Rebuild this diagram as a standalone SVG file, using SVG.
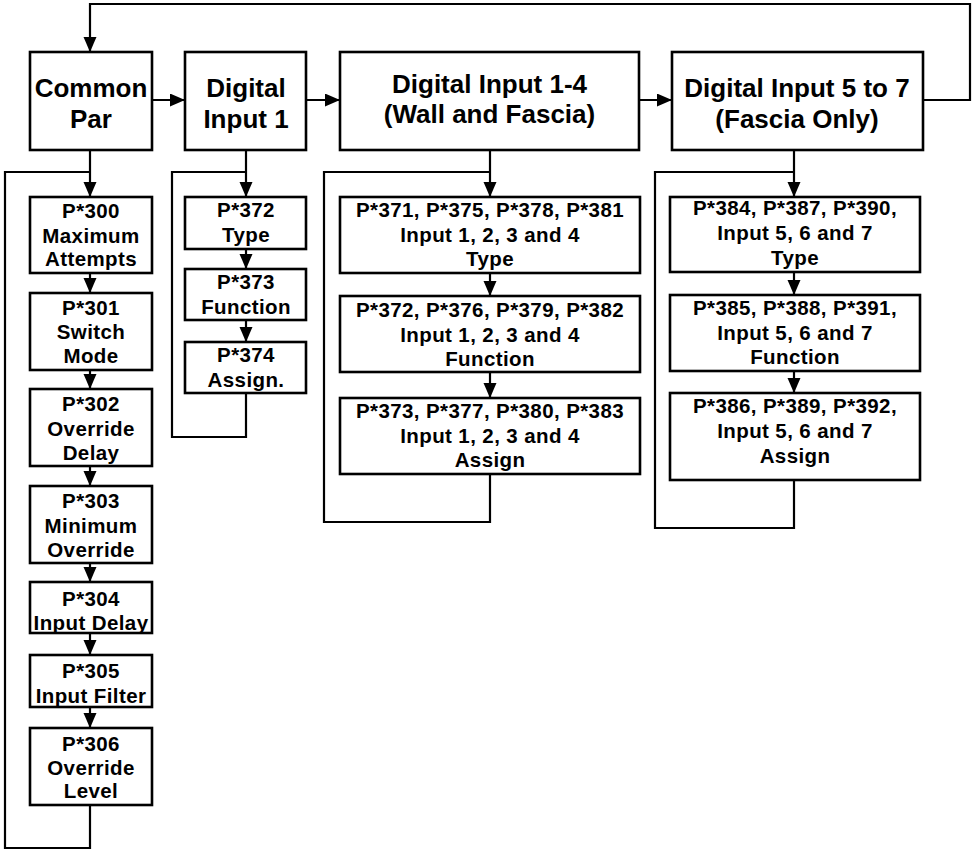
<svg xmlns="http://www.w3.org/2000/svg" width="975" height="851" viewBox="0 0 975 851">
<style>
.box{fill:#fff;stroke:#000;stroke-width:2.6}
.ln{fill:none;stroke:#000;stroke-width:2.2}
.big{font-family:"Liberation Sans",Arial,sans-serif;font-weight:bold;font-size:26px;text-anchor:middle;fill:#000}
.sm{font-family:"Liberation Sans",Arial,sans-serif;font-weight:bold;font-size:20.5px;letter-spacing:0.4px;text-anchor:middle;fill:#000}
</style>
<defs>
<marker id="ah" markerUnits="userSpaceOnUse" markerWidth="16" markerHeight="14" refX="15" refY="6.5" orient="auto">
<path d="M0,0 L15,6.5 L0,13 z" fill="#000"/>
</marker>
</defs>
<rect width="975" height="851" fill="#fff"/>
<g id="connectors">
<path class="ln" d="M923,100 H970 V4 H90 V52" marker-end="url(#ah)"/>
<path class="ln" d="M152,100 H185" marker-end="url(#ah)"/>
<path class="ln" d="M306,100 H340" marker-end="url(#ah)"/>
<path class="ln" d="M639,100 H672" marker-end="url(#ah)"/>
<path class="ln" d="M90,150 V197" marker-end="url(#ah)"/>
<path class="ln" d="M90,805 V848 H5 V172 H90"/>
<path class="ln" d="M90,273 V293" marker-end="url(#ah)"/>
<path class="ln" d="M90,370 V389" marker-end="url(#ah)"/>
<path class="ln" d="M90,466 V486" marker-end="url(#ah)"/>
<path class="ln" d="M90,563 V582" marker-end="url(#ah)"/>
<path class="ln" d="M90,633 V655" marker-end="url(#ah)"/>
<path class="ln" d="M90,707 V728" marker-end="url(#ah)"/>
<path class="ln" d="M246,150 V197" marker-end="url(#ah)"/>
<path class="ln" d="M246,393 V437 H172 V172 H246"/>
<path class="ln" d="M246,249 V269" marker-end="url(#ah)"/>
<path class="ln" d="M246,320 V342" marker-end="url(#ah)"/>
<path class="ln" d="M490,150 V197" marker-end="url(#ah)"/>
<path class="ln" d="M490,474 V522 H324 V172 H490"/>
<path class="ln" d="M490,273 V296" marker-end="url(#ah)"/>
<path class="ln" d="M490,372 V398" marker-end="url(#ah)"/>
<path class="ln" d="M794,150 V197" marker-end="url(#ah)"/>
<path class="ln" d="M794,480 V528 H655 V172 H794"/>
<path class="ln" d="M794,272 V295" marker-end="url(#ah)"/>
<path class="ln" d="M794,371 V393" marker-end="url(#ah)"/>
</g>
<g id="common-par"><rect class="box" x="30" y="52" width="122" height="98"/><text class="big" x="91" y="97">Common</text><text class="big" x="91" y="128">Par</text></g>
<g id="digital-input-1"><rect class="box" x="185" y="52" width="121" height="98"/><text class="big" x="246" y="97">Digital</text><text class="big" x="246" y="128">Input 1</text></g>
<g id="digital-input-1-4"><rect class="box" x="340" y="52" width="299" height="98"/><text class="big" x="489.5" y="93">Digital Input 1-4</text><text class="big" x="489.5" y="123">(Wall and Fascia)</text></g>
<g id="digital-input-5-7"><rect class="box" x="672" y="52" width="251" height="98"/><text class="big" x="797" y="97">Digital Input 5 to 7</text><text class="big" x="797" y="128">(Fascia Only)</text></g>

<g id="p300"><rect class="box" x="30" y="197" width="122" height="76"/><text class="sm" x="91" y="218">P*300</text><text class="sm" x="91" y="243">Maximum</text><text class="sm" x="91" y="266">Attempts</text></g>
<g id="p301"><rect class="box" x="30" y="293" width="122" height="77"/><text class="sm" x="91" y="315">P*301</text><text class="sm" x="91" y="339">Switch</text><text class="sm" x="91" y="363">Mode</text></g>
<g id="p302"><rect class="box" x="30" y="389" width="122" height="77"/><text class="sm" x="91" y="411">P*302</text><text class="sm" x="91" y="436">Override</text><text class="sm" x="91" y="460">Delay</text></g>
<g id="p303"><rect class="box" x="30" y="486" width="122" height="77"/><text class="sm" x="91" y="508">P*303</text><text class="sm" x="91" y="533">Minimum</text><text class="sm" x="91" y="557">Override</text></g>
<g id="p304"><rect class="box" x="30" y="582" width="122" height="51"/><text class="sm" x="91" y="606">P*304</text><text class="sm" x="91" y="630">Input Delay</text></g>
<g id="p305"><rect class="box" x="30" y="655" width="122" height="52"/><text class="sm" x="91" y="678">P*305</text><text class="sm" x="91" y="703">Input Filter</text></g>
<g id="p306"><rect class="box" x="30" y="728" width="122" height="77"/><text class="sm" x="91" y="751">P*306</text><text class="sm" x="91" y="775">Override</text><text class="sm" x="91" y="798">Level</text></g>

<g id="p372"><rect class="box" x="185" y="197" width="121" height="52"/><text class="sm" x="246" y="217">P*372</text><text class="sm" x="246" y="242">Type</text></g>
<g id="p373"><rect class="box" x="185" y="269" width="121" height="51"/><text class="sm" x="246" y="289">P*373</text><text class="sm" x="246" y="314">Function</text></g>
<g id="p374"><rect class="box" x="185" y="342" width="121" height="51"/><text class="sm" x="246" y="362">P*374</text><text class="sm" x="246" y="387">Assign.</text></g>

<g id="di14-type"><rect class="box" x="340" y="197" width="300" height="76"/><text class="sm" x="490" y="217">P*371, P*375, P*378, P*381</text><text class="sm" x="490" y="242">Input 1, 2, 3 and 4</text><text class="sm" x="490" y="266">Type</text></g>
<g id="di14-function"><rect class="box" x="340" y="296" width="300" height="76"/><text class="sm" x="490" y="317">P*372, P*376, P*379, P*382</text><text class="sm" x="490" y="342">Input 1, 2, 3 and 4</text><text class="sm" x="490" y="366">Function</text></g>
<g id="di14-assign"><rect class="box" x="340" y="398" width="300" height="76"/><text class="sm" x="490" y="418">P*373, P*377, P*380, P*383</text><text class="sm" x="490" y="443">Input 1, 2, 3 and 4</text><text class="sm" x="490" y="467">Assign</text></g>

<g id="di57-type"><rect class="box" x="670" y="197" width="250" height="75"/><text class="sm" x="795" y="215">P*384, P*387, P*390,</text><text class="sm" x="795" y="240">Input 5, 6 and 7</text><text class="sm" x="795" y="265">Type</text></g>
<g id="di57-function"><rect class="box" x="670" y="295" width="250" height="76"/><text class="sm" x="795" y="315">P*385, P*388, P*391,</text><text class="sm" x="795" y="340">Input 5, 6 and 7</text><text class="sm" x="795" y="364">Function</text></g>
<g id="di57-assign"><rect class="box" x="670" y="393" width="250" height="87"/><text class="sm" x="795" y="413">P*386, P*389, P*392,</text><text class="sm" x="795" y="438">Input 5, 6 and 7</text><text class="sm" x="795" y="463">Assign</text></g>
</svg>
